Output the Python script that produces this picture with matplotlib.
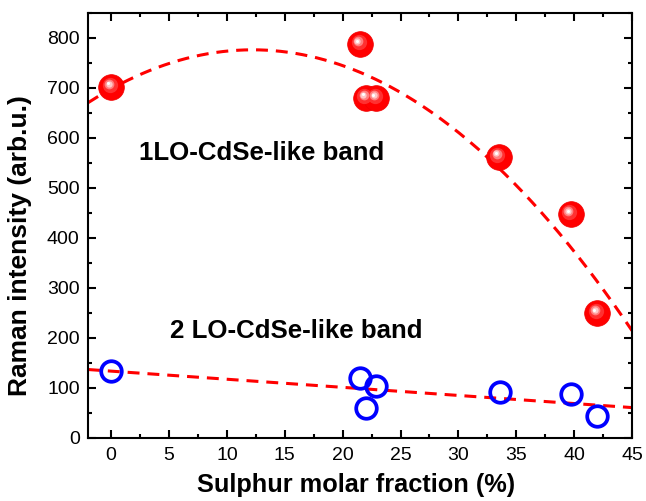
import numpy as np
import matplotlib
matplotlib.use("Agg")
import matplotlib.pyplot as plt
from matplotlib.ticker import MultipleLocator
import matplotlib.transforms as mtransforms

plt.rcParams['font.family'] = ['Liberation Sans', 'DejaVu Sans']

# Data
x_1lo = [0.0, 21.5, 22.0, 22.9, 33.5, 39.7, 42.0]
y_1lo = [702, 787, 680, 679, 562, 447, 249]
x_2lo = [0.0, 21.5, 22.9, 22.0, 33.6, 39.7, 42.0]
y_2lo = [134, 119, 104, 60, 91, 87, 43]
x_ticks = [0, 5, 10, 15, 20, 25, 30, 35, 40, 45]
y_ticks = [0, 100, 200, 300, 400, 500, 600, 700, 800]
label_1lo = "1LO-CdSe-like band"
label_2lo = "2 LO-CdSe-like band"

fig = plt.figure(figsize=(6.46, 5.01), dpi=100)
ax = fig.add_axes([88/646, 1-437.7/501, (632-88)/646, (437.7-13)/501])
ax.set_xlim(-2, 45)
ax.set_ylim(0, 850)

# Fit curves (polynomial fits of the data)
xf = np.linspace(-2, 45, 300)
p1 = np.polyfit(x_1lo, y_1lo, 2)
p2 = np.polyfit(x_2lo, y_2lo, 1)
dash = (0, (3.9, 2.6))
ax.plot(xf, np.polyval(p1, xf), color='#ff0000', lw=2.2, ls=dash, zorder=2, clip_on=True)
ax.plot(xf, np.polyval(p2, xf), color='#ff0000', lw=2.2, ls=dash, zorder=2, clip_on=True)

# Sphere-like red markers
ax.plot(x_1lo, y_1lo, ls='none', marker='o', ms=18.5, mfc='#ff0000', mec='#f00000', mew=0.5, zorder=3)
layers = [(11, '#ff3030', -1.5, 2.0), (7, '#ff8080', -2.2, 3.0), (4.5, '#ffc8c8', -2.6, 3.4), (2.2, '#ffffff', -2.8, 3.6)]
for i, (ms, col, dx, dy) in enumerate(layers):
    tr = mtransforms.offset_copy(ax.transData, fig=fig, x=dx, y=dy, units='dots')
    ax.plot(x_1lo, y_1lo, ls='none', marker='o', ms=ms, mfc=col, mec='none', transform=tr, zorder=4 + i)

# Open blue circles
ax.plot(x_2lo, y_2lo, ls='none', marker='o', ms=14.8, mfc='none', mec='#0000ff', mew=2.7, zorder=3)

ax.text(2.42, 555, label_1lo, fontsize=18.6, fontweight='bold', ha='left', va='baseline')
ax.text(5.1, 199, label_2lo, fontsize=18.6, fontweight='bold', ha='left', va='baseline')

ax.set_xticks(x_ticks)
ax.set_yticks(y_ticks)
ax.xaxis.set_minor_locator(MultipleLocator(2.5))
ax.yaxis.set_minor_locator(MultipleLocator(50))
ax.tick_params(which='both', direction='in', top=True, right=True, width=1.5, labelsize=14)
ax.tick_params(which='major', length=6)
ax.tick_params(which='minor', length=3)
ax.tick_params(axis='x', pad=7)
ax.tick_params(axis='y', pad=6)
for s in ax.spines.values():
    s.set_linewidth(1.5)

fig.text(356/646, 1-492/501, "Sulphur molar fraction (%)", fontsize=18.3, fontweight='bold',
         ha='center', va='baseline')
fig.text(27/646, 1-246/501, "Raman intensity (arb.u.)", fontsize=19, fontweight='bold',
         ha='center', va='baseline', rotation=90, rotation_mode='anchor')

fig.savefig("out.png", dpi=100)
